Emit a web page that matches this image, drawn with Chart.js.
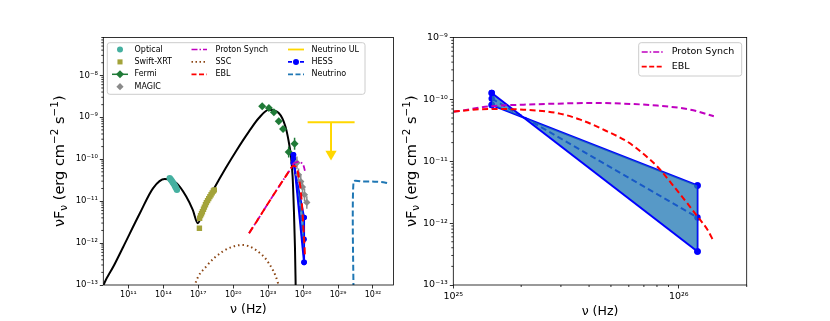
<!DOCTYPE html>
<html><head><meta charset="utf-8">
<script src="https://cdn.jsdelivr.net/npm/chart.js@4.4.0/dist/chart.umd.min.js"></script>
<style>
html,body{margin:0;padding:0;background:#fff;width:830px;height:321px;overflow:hidden;position:relative}
#a{position:absolute;left:0;top:0}
#b{position:absolute;left:400px;top:0}
</style></head><body>
<canvas id="a" width="400" height="321"></canvas>
<canvas id="b" width="430" height="321"></canvas>
<script>
// ---------------- data (frequency in Hz, nuFnu in erg cm^-2 s^-1) ----------------
const modelNu   = [5e8, 7.4e8, 5.2e9, 3.7e10, 1.0e12, 1.35e13, 1.32e14, 1.32e15, 9.3e15, 3.4e16, 9.1e16, 3.4e17, 2.4e18, 2.3e19, 1.7e20, 2.3e21, 1.6e22, 1.15e23, 8.1e23, 3.0e24, 5.8e24, 9.1e24, 1.26e25, 1.62e25, 2.0e25, 2.3e25, 2.4e25];
const modelFlux = [7e-14, 1.0e-13, 2.75e-13, 8.2e-13, 5.2e-12, 2.05e-11, 3.36e-11, 2.7e-11, 1.29e-11, 6.2e-12, 2.99e-12, 7.4e-12, 2.05e-11, 6.15e-11, 1.53e-10, 4.6e-10, 9.6e-10, 1.52e-9, 1.27e-9, 6.1e-10, 2.66e-10, 1.16e-10, 3.87e-11, 6.2e-12, 8.2e-13, 1.0e-13, 5e-14];

const sscNu   = [4e16, 5.75e16, 4.7e17, 1.23e19, 6.0e20, 8.5e21, 1.15e23, 7.1e23, 1.0e24];
const sscFlux = [7e-14, 1.1e-13, 2.73e-13, 6.25e-13, 9.0e-13, 6.9e-13, 3.3e-13, 1.1e-13, 7e-14];

const opticalNu   = [3.55e14, 4.37e14, 5.37e14, 6.61e14, 8.13e14, 1.0e15, 1.2e15, 1.48e15];
const opticalFlux = [3.55e-11, 3.3e-11, 3.05e-11, 2.8e-11, 2.55e-11, 2.3e-11, 2.08e-11, 1.86e-11];

const xrtNu   = [1.26e17, 1.32e17, 1.58e17, 1.91e17, 2.29e17, 2.82e17, 3.39e17, 4.17e17, 5.01e17, 6.31e17, 7.94e17, 1.0e18, 1.26e18, 1.58e18, 2.0e18, 2.4e18];
const xrtFlux = [2.26e-12, 3.9e-12, 4.5e-12, 5.0e-12, 5.6e-12, 6.4e-12, 7.2e-12, 8.2e-12, 9.2e-12, 1.03e-11, 1.15e-11, 1.28e-11, 1.42e-11, 1.58e-11, 1.74e-11, 1.86e-11];

const fermiNu   = [3.1e22, 1.15e23, 3.1e23, 8.1e23, 1.9e24, 5.8e24, 1.86e25];
const fermiFlux = [1.83e-9, 1.67e-9, 1.31e-9, 8.0e-10, 5.26e-10, 1.49e-10, 2.34e-10];
const fermiLo   = [1.72e-9, 1.57e-9, 1.22e-9, 7.4e-10, 4.8e-10, 1.1e-10, 1.69e-10];
const fermiHi   = [1.95e-9, 1.78e-9, 1.41e-9, 8.7e-10, 5.8e-10, 2.0e-10, 3.26e-10];

const magicNu   = [2.95e25, 4.07e25, 6.31e25, 8.91e25, 1.32e26, 2.09e26];
const magicFlux = [8.2e-11, 4.26e-11, 2.94e-11, 2.16e-11, 1.42e-11, 9.3e-12];
const magicLo   = [5.8e-11, 3.0e-11, 2.08e-11, 1.53e-11, 1.0e-11, 6.6e-12];
const magicHi   = [1.16e-10, 6.0e-11, 4.15e-11, 3.05e-11, 2.0e-11, 1.31e-11];

const hessNu    = [1.48e25, 1.21e26];
const hessFlux  = [1.03e-10, 1.23e-12];
const hessSteep = [1.27e-10, 3.47e-13];
const hessHard  = [8.1e-11, 4.06e-12];

const psNu   = [2.3e21, 1e22, 1e23, 1e24, 3.16e24, 1.035e25, 1.455e25, 2.05e25, 2.88e25, 4.06e25, 5.7e25, 8.02e25, 1.127e26, 1.43e26];
const psFlux = [1.72e-12, 3.24e-12, 8.9e-12, 2.4e-11, 3.89e-11, 6.41e-11, 7.73e-11, 8.22e-11, 8.53e-11, 8.75e-11, 8.53e-11, 7.93e-11, 6.82e-11, 5.32e-11];

const eblNu   = [2.3e21, 1e22, 1e23, 1e24, 3.16e24, 1.035e25, 1.455e25, 2.05e25, 2.88e25, 3.66e25, 4.81e25, 5.89e25, 6.76e25, 8.02e25, 9.51e25, 1.09e26, 1.21e26, 1.34e26, 1.43e26];
const eblFlux = [1.72e-12, 3.24e-12, 8.9e-12, 2.4e-11, 3.89e-11, 6.41e-11, 7.0e-11, 6.82e-11, 6.03e-11, 4.70e-11, 3.04e-11, 2.09e-11, 1.44e-11, 8.24e-12, 3.91e-12, 2.10e-12, 1.28e-12, 7.8e-13, 5.0e-13];

const ulNu      = [2.45e26, 2.63e30];
const ulFlux    = 7.57e-10;
const ulArrowNu = 2.5e28;
const ulArrowTo = 1.34e-10;

const nuNu   = [2.14e30, 2.14e30, 1.4e31, 1.4e32, 1.0e33, 2.7e33];
const nuFlux = [5e-14, 2.94e-11, 2.94e-11, 2.92e-11, 2.8e-11, 2.6e-11];

const leftXTicks  = [1e11, 1e14, 1e17, 1e20, 1e23, 1e26, 1e29, 1e32];
const leftYTicks  = [1e-13, 1e-12, 1e-11, 1e-10, 1e-9, 1e-8];
const rightXTicks = [1e25, 1e26];
const rightYTicks = [1e-13, 1e-12, 1e-11, 1e-10, 1e-9];

const legendLeft  = ['Optical', 'Swift-XRT', 'Fermi', 'MAGIC', 'Proton Synch', 'SSC', 'EBL', 'Neutrino UL', 'HESS', 'Neutrino'];
const legendRight = ['Proton Synch', 'EBL'];

// ---------------- helpers ----------------
Chart.defaults.font.family = '"DejaVu Sans", sans-serif';
const SUP = {'-':'\u207B','0':'\u2070','1':'\u00B9','2':'\u00B2','3':'\u00B3','4':'\u2074','5':'\u2075','6':'\u2076','7':'\u2077','8':'\u2078','9':'\u2079'};
function pow10(v){ const e = Math.round(Math.log10(v)); return '10' + String(e).split('').map(c => SUP[c]).join(''); }
function pts(xs, ys){ return xs.map((x, i) => ({x, y: Array.isArray(ys) ? ys[i] : ys})); }
function minors(lo, hi, maxV){ const out=[]; for (let e=lo; e<=hi; e++) for (let m=2; m<=9; m++){ const v=m*Math.pow(10,e); if (v<=maxV) out.push(v);} return out; }

const C = {
  optical:'#45b0a0', xrt:'#a3a33a', fermi:'#1f7a37', magic:'#8a8a8a', ps:'#c000c0', ssc:'#8b4513',
  ebl:'#ff0000', ul:'#ffd700', hess:'#0000ff', nu:'#1f77b4', fill:'rgba(31,119,180,0.75)'
};

function logAxis(o){
  return {
    type:'logarithmic', min:o.min, max:o.max, position:o.position,
    afterBuildTicks: s => { s.ticks = o.majors.map(v => ({value:v})); },
    afterFit: s => { if (o.width) s.width = o.width; if (o.height) s.height = o.height; },
    ticks:{ callback: v => pow10(v), autoSkip:false, maxRotation:0, color:'#000', padding:o.pad, font:{size:o.fs} },
    grid:{ display:true, drawOnChartArea:false, drawTicks:true, tickLength:3.5, tickColor:'#000', tickWidth:0.8 },
    border:{ display:false },
    title: o.title ? { display:true, text:o.title, color:'#000', font:{size:12.5}, padding:{top:0, bottom:o.titlePad} } : {display:false}
  };
}

const frame = {
  id:'frame',
  afterDatasetsDraw(chart, args, o){
    const {ctx, chartArea:a} = chart;
    ctx.save(); ctx.strokeStyle='#000'; ctx.lineWidth=0.8;
    for (const id of Object.keys(o.minor || {})) {
      const s = chart.scales[id];
      for (const v of o.minor[id]) {
        if (v < s.min || v > s.max) continue;
        const p = s.getPixelForValue(v);
        ctx.beginPath();
        if (s.isHorizontal()) { ctx.moveTo(p, a.bottom); ctx.lineTo(p, a.bottom + 2); }
        else { ctx.moveTo(a.left, p); ctx.lineTo(a.left - 2, p); }
        ctx.stroke();
      }
    }
    ctx.strokeRect(a.left, a.top, a.right - a.left, a.bottom - a.top);
    ctx.restore();
  }
};

const yTitle = {
  id:'yTitle',
  afterDraw(chart, args, o){
    const {ctx, chartArea:a} = chart;
    const fs = o.size;
    const parts = [
      {t:'\u03BDF', s:1, dy:0}, {t:'\u03BD', s:0.72, dy:0.22},
      {t:' (erg cm', s:1, dy:0}, {t:'\u22122', s:0.72, dy:-0.4},
      {t:' s', s:1, dy:0}, {t:'\u22121', s:0.72, dy:-0.4}, {t:')', s:1, dy:0}
    ];
    ctx.save();
    let total = 0;
    parts.forEach(p => { ctx.font = (fs*p.s) + 'px "DejaVu Sans"'; p.w = ctx.measureText(p.t).width; total += p.w; });
    ctx.translate(o.x, (a.top + a.bottom)/2);
    ctx.rotate(-Math.PI/2);
    ctx.fillStyle = '#000'; ctx.textBaseline = 'alphabetic';
    let x = -total/2;
    parts.forEach(p => { ctx.font = (fs*p.s) + 'px "DejaVu Sans"'; ctx.fillText(p.t, x, fs*0.36 + p.dy*fs); x += p.w; });
    ctx.restore();
  }
};

const errorBars = {
  id:'errorBars',
  beforeDatasetDraw(chart, args){
    const ds = chart.data.datasets[args.index];
    if (!ds.errLo) return;
    const {ctx, chartArea:a} = chart; const xs = chart.scales.x, ys = chart.scales.y;
    ctx.save(); ctx.beginPath(); ctx.rect(a.left, a.top, a.right-a.left, a.bottom-a.top); ctx.clip();
    ctx.strokeStyle = ds.errColor; ctx.lineWidth = 1.5;
    ds.data.forEach((p, i) => {
      const px = xs.getPixelForValue(p.x);
      ctx.beginPath(); ctx.moveTo(px, ys.getPixelForValue(ds.errLo[i])); ctx.lineTo(px, ys.getPixelForValue(ds.errHi[i])); ctx.stroke();
    });
    ctx.restore();
  }
};

function rrect(ctx, x, y, w, h, r){
  ctx.beginPath(); ctx.moveTo(x+r, y); ctx.lineTo(x+w-r, y); ctx.arcTo(x+w, y, x+w, y+r, r);
  ctx.lineTo(x+w, y+h-r); ctx.arcTo(x+w, y+h, x+w-r, y+h, r); ctx.lineTo(x+r, y+h); ctx.arcTo(x, y+h, x, y+h-r, r);
  ctx.lineTo(x, y+r); ctx.arcTo(x, y, x+r, y, r); ctx.closePath();
}

const STYLE = {
  'Optical':      {marker:{style:'circle', r:3, color:C.optical}},
  'Swift-XRT':    {marker:{style:'rect', r:3.6, color:C.xrt}},
  'Fermi':        {line:{color:C.fermi, width:1.5, dash:[]}, marker:{style:'rectRot', r:4, color:C.fermi}},
  'MAGIC':        {marker:{style:'rectRot', r:3.6, color:C.magic}},
  'Proton Synch': {line:{color:C.ps, width:1.6, dash:[6,2,1.5,2]}},
  'SSC':          {line:{color:C.ssc, width:1.8, dash:[1.5,2.5]}},
  'EBL':          {line:{color:C.ebl, width:1.8, dash:[5,2.5]}},
  'Neutrino UL':  {line:{color:C.ul, width:1.8, dash:[]}},
  'HESS':         {line:{color:C.hess, width:1.6, dash:[4,2]}, marker:{style:'circle', r:3, color:C.hess}},
  'Neutrino':     {line:{color:C.nu, width:1.8, dash:[5,2.5]}}
};

const legendDraw = {
  id:'legendDraw',
  afterDraw(chart, args, o){
    const ctx = chart.ctx;
    ctx.save();
    rrect(ctx, o.box[0], o.box[1], o.box[2], o.box[3], 2.5);
    ctx.fillStyle = 'rgba(255,255,255,0.8)'; ctx.fill();
    ctx.strokeStyle = '#cccccc'; ctx.lineWidth = 1; ctx.stroke();
    ctx.font = o.fs + 'px "DejaVu Sans"'; ctx.textBaseline = 'middle'; ctx.textAlign = 'left';
    o.labels.forEach((lab, i) => {
      const st = Object.assign({}, STYLE[lab], (o.override || {})[lab] || {});
      const col = o.cols[o.colOf[i]];
      const y = o.rows[o.rowOf[i]];
      if (st.line) {
        ctx.save(); ctx.strokeStyle = st.line.color; ctx.lineWidth = st.line.width; ctx.setLineDash(st.line.dash);
        ctx.beginPath(); ctx.moveTo(col[0], y); ctx.lineTo(col[1], y); ctx.stroke(); ctx.restore();
      }
      if (st.marker) {
        ctx.fillStyle = st.marker.color; ctx.strokeStyle = st.marker.color;
        Chart.helpers.drawPoint(ctx, {pointStyle:st.marker.style, radius:st.marker.r, rotation:0, borderWidth:0}, (col[0]+col[1])/2, y);
      }
      ctx.fillStyle = '#000'; ctx.fillText(lab, col[2], y);
    });
    ctx.restore();
  }
};

function line(label, xs, ys, color, width, dash, order, extra){
  return Object.assign({label, data:pts(xs, ys), showLine:true, borderColor:color, backgroundColor:color, borderWidth:width,
    borderDash:dash, pointRadius:0, pointHoverRadius:0, fill:false, order, cubicInterpolationMode:'monotone'}, extra || {});
}
function marks(label, xs, ys, color, style, r, order, extra){
  return Object.assign({label, data:pts(xs, ys), showLine:false, pointStyle:style, pointRadius:r, pointHoverRadius:r,
    pointBackgroundColor:color, pointBorderColor:color, pointBorderWidth:0, order}, extra || {});
}
function hessSets(r){
  const common = {showLine:true, borderColor:C.hess, backgroundColor:C.hess, borderWidth:2, pointRadius:r, pointHoverRadius:r,
    pointBackgroundColor:C.hess, pointBorderWidth:0, order:4, tension:0};
  return [
    Object.assign({label:'HESS steep', data:pts(hessNu, hessSteep), fill:{target:'+1', above:C.fill, below:C.fill}}, common),
    Object.assign({label:'HESS hard', data:pts(hessNu, hessHard), fill:false}, common),
    Object.assign({label:'HESS', data:pts(hessNu, hessFlux), fill:false, borderDash:[6,3.5]}, common),
    Object.assign({label:'HESS left', data:[{x:hessNu[0], y:hessSteep[0]}, {x:hessNu[0], y:hessHard[0]}], fill:false}, common),
    Object.assign({label:'HESS right', data:[{x:hessNu[1], y:hessSteep[1]}, {x:hessNu[1], y:hessHard[1]}], fill:false}, common)
  ];
}

// ---------------- left panel ----------------
new Chart(document.getElementById('a'), {
  type:'scatter',
  data:{ datasets:[
    line('model', modelNu, modelFlux, '#000', 2, [], 9),
    line('SSC', sscNu, sscFlux, C.ssc, 2, [1.5,3], 8),
    marks('Optical', opticalNu, opticalFlux, C.optical, 'circle', 3.2, 5),
    marks('Swift-XRT', xrtNu, xrtFlux, C.xrt, 'rect', 3.8, 5),
    marks('Fermi', fermiNu, fermiFlux, C.fermi, 'rectRot', 4, 5, {errLo:fermiLo, errHi:fermiHi, errColor:C.fermi}),
    ...hessSets(2.8),
    marks('MAGIC', magicNu, magicFlux, C.magic, 'rectRot', 3.6, 3, {errLo:magicLo, errHi:magicHi, errColor:C.magic}),
    line('Proton Synch', psNu, psFlux, C.ps, 1.8, [7,2.5,1.5,2.5], 2),
    line('EBL', eblNu, eblFlux, C.ebl, 2, [7,4], 1),
    line('Neutrino UL', ulNu, ulFlux, C.ul, 2, [], 1, {cubicInterpolationMode:'default', tension:0}),
    line('Neutrino UL arrow', [ulArrowNu, ulArrowNu], [ulFlux, ulArrowTo], C.ul, 2, [], 1, {cubicInterpolationMode:'default', tension:0}),
    marks('Neutrino UL head', [ulArrowNu], [ulArrowTo], C.ul, 'triangle', 6.5, 1, {rotation:180}),
    line('Neutrino', nuNu, nuFlux, C.nu, 2, [6,3], 1, {cubicInterpolationMode:'default', tension:0.2})
  ]},
  options:{
    responsive:false, animation:false, events:[],
    layout:{ padding:{left:0, top:37.5, right:4, bottom:0} },
    scales:{
      x: logAxis({min:7.1e8, max:5.75e33, position:'bottom', majors:leftXTicks, height:36, pad:2, fs:8, title:'\u03BD (Hz)', titlePad:4}),
      y: logAxis({min:1e-13, max:8e-8, position:'left', majors:leftYTicks, width:103.3, pad:2, fs:8.5})
    },
    plugins:{
      legend:{display:false}, tooltip:{enabled:false},
      frame:{ minor:{ y: minors(-13, -8, 8e-8) } },
      yTitle:{ x:59, size:14.5 },
      legendDraw:{
        box:[107.3, 42.7, 257.7, 51.6], fs:8, labels:legendLeft,
        cols:[[112, 128, 134.5], [191.5, 207, 215.5], [288, 304, 311.5]],
        rows:[49.5, 61.9, 74.3, 86.7],
        colOf:[0,0,0,0,1,1,1,2,2,2], rowOf:[0,1,2,3,0,1,2,0,1,2]
      }
    }
  },
  plugins:[frame, yTitle, errorBars, legendDraw]
});

// ---------------- right panel ----------------
new Chart(document.getElementById('b'), {
  type:'scatter',
  data:{ datasets:[
    ...hessSets(3.2),
    line('Proton Synch', psNu, psFlux, C.ps, 2, [6,3.5], 2),
    line('EBL', eblNu, eblFlux, C.ebl, 2, [6,3.5], 1)
  ]},
  options:{
    responsive:false, animation:false, events:[],
    layout:{ padding:{left:0, top:37.5, right:83.3, bottom:0} },
    scales:{
      x: logAxis({min:1e25, max:2e26, position:'bottom', majors:rightXTicks, height:36, pad:2, fs:9.5, title:'\u03BD (Hz)', titlePad:2}),
      y: logAxis({min:1e-13, max:1e-9, position:'left', majors:rightYTicks, width:53.3, pad:2, fs:9.5})
    },
    plugins:{
      legend:{display:false}, tooltip:{enabled:false},
      frame:{ minor:{ x: minors(25, 26, 2e26), y: minors(-13, -10, 1e-9) } },
      yTitle:{ x:11, size:14.5 },
      legendDraw:{
        box:[238.7, 42.7, 103, 33.3], fs:9.5, labels:legendRight,
        override:{'Proton Synch':{line:{color:C.ps, width:1.8, dash:[5,3]}}, 'EBL':{line:{color:C.ebl, width:1.8, dash:[5,3]}}},
        cols:[[241.7, 263.3, 271.7]], rows:[52, 66.7],
        colOf:[0,0], rowOf:[0,1]
      }
    }
  },
  plugins:[frame, yTitle, errorBars, legendDraw]
});
</script>
</body></html>
